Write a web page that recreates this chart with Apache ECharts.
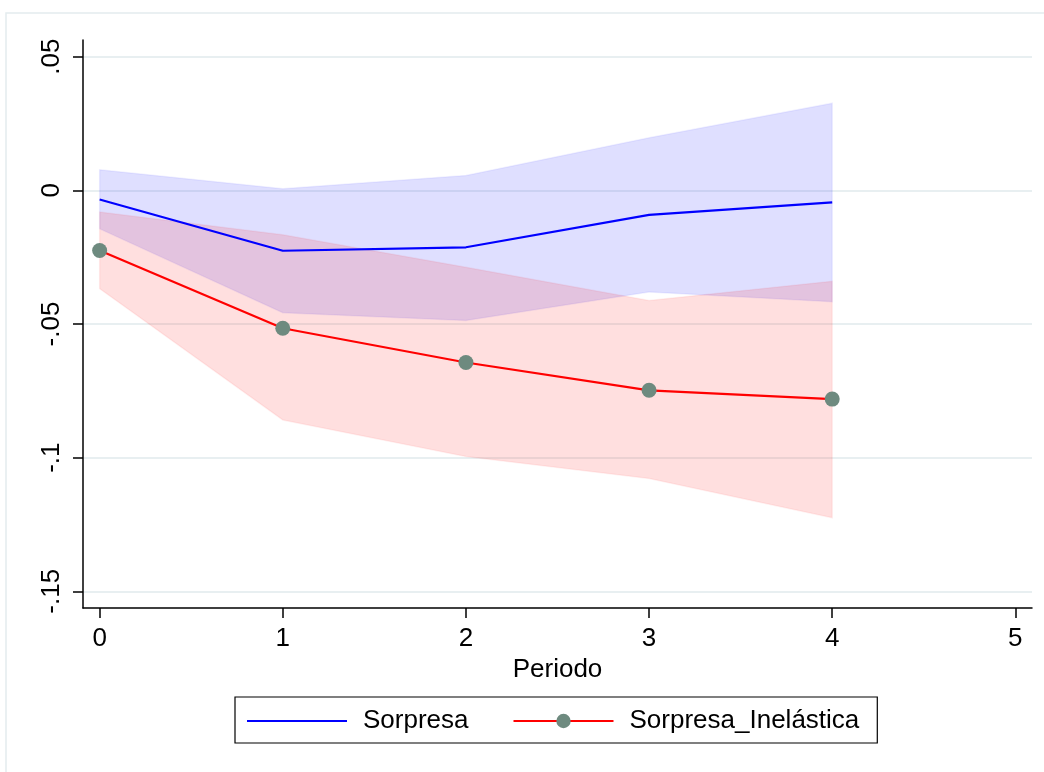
<!DOCTYPE html>
<html>
	<head>
		<meta charset="utf-8">
		<title></title>
	</head>
	<body style="margin:0;background:#fff;">
		<div id="container" style="width:1044px;height:772px;"></div>
	</body>
	<script src="https://cdn.jsdelivr.net/npm/echarts@6/dist/echarts.min.js"></script>
	<script type="text/javascript">
		'use strict'

		// periodos
		var periodos = [0, 1, 2, 3, 4];
		// Sorpresa: estimacion e intervalo
		var sorpresa = [-0.0034, -0.0226, -0.0213, -0.0092, -0.0045];
		var sorpresaLo = [-0.0144, -0.0458, -0.0487, -0.0380, -0.0417];
		var sorpresaHi = [0.0077, 0.0006, 0.0056, 0.0197, 0.0326];
		// Sorpresa_Inelastica: estimacion e intervalo
		var inelastica = [-0.0225, -0.0516, -0.0644, -0.0748, -0.0781];
		var inelasticaLo = [-0.0368, -0.0859, -0.0996, -0.1078, -0.1225];
		var inelasticaHi = [-0.0081, -0.0166, -0.0288, -0.0412, -0.0340];
		// ticks
		var xTicks = [0, 1, 2, 3, 4, 5];
		var yTicks = [-0.15, -0.1, -0.05, 0, 0.05];
		var yTickLabels = ['-.15', '-.1', '-.05', '0', '.05'];

		var fuente = 'Liberation Sans, Arial, sans-serif';

		function banda(lo, hi, relleno, borde) {
			return {
				type: 'custom',
				silent: true,
				data: periodos.map(function(p, i) { return [p, lo[i], hi[i]]; }),
				encode: { x: 0, y: [1, 2] },
				renderItem: function(params, api) {
					if (params.dataIndex !== 0) return null;
					var pts = [];
					for (var i = 0; i < periodos.length; i++) pts.push(api.coord([periodos[i], hi[i]]));
					for (var j = periodos.length - 1; j >= 0; j--) pts.push(api.coord([periodos[j], lo[j]]));
					return {
						type: 'polygon',
						shape: { points: pts },
						style: { fill: relleno, stroke: borde, lineWidth: 1.5 }
					};
				}
			};
		}

		var myCharts = echarts.init(document.getElementById('container'));
		var option = {
			backgroundColor: '#ffffff',
			animation: false,
			graphic: [{
				type: 'rect',
				z: -10,
				shape: { x: 6, y: 13, width: 1200, height: 900 },
				style: { fill: 'none', stroke: '#e4ecee', lineWidth: 1.5 }
			}],
			grid: { left: 83, right: 12, top: 40, bottom: 164 },
			legend: {
				left: 235,
				top: 697,
				padding: [11, 18, 9, 11],
				borderColor: '#000',
				borderWidth: 1.2,
				itemWidth: 100,
				itemHeight: 18,
				itemGap: 44,
				textStyle: { fontFamily: fuente, fontSize: 26, color: '#000', padding: [0, 0, 0, 11] },
				data: [
					{ name: 'Sorpresa', itemStyle: { color: 'rgba(0,0,0,0)', borderWidth: 0 } },
					{ name: 'Sorpresa_Inelástica' }
				]
			},
			xAxis: {
				type: 'value',
				min: -0.0909,
				max: 5.0909,
				name: 'Periodo',
				nameLocation: 'middle',
				nameGap: 40,
				nameTextStyle: { fontFamily: fuente, fontSize: 26, color: '#000' },
				axisLine: { onZero: false, lineStyle: { color: '#000', width: 1.5 } },
				axisTick: { show: true, length: 10, customValues: xTicks, lineStyle: { color: '#000', width: 1.5 } },
				axisLabel: { customValues: xTicks, margin: 18, fontFamily: fuente, fontSize: 26, color: '#000' },
				splitLine: { show: false }
			},
			yAxis: {
				type: 'value',
				min: -0.15625,
				max: 0.05625,
				axisLine: { show: true, onZero: false, lineStyle: { color: '#000', width: 1.5 } },
				axisTick: { show: true, length: 10, customValues: yTicks, lineStyle: { color: '#000', width: 1.5 } },
				axisLabel: {
					customValues: yTicks,
					rotate: 90,
					margin: 18,
					fontFamily: fuente,
					fontSize: 26,
					color: '#000',
					formatter: function(v) {
						for (var i = 0; i < yTicks.length; i++) {
							if (Math.abs(yTicks[i] - v) < 1e-9) return yTickLabels[i];
						}
						return '';
					}
				},
				splitLine: { show: true, lineStyle: { color: '#e8eff1', width: 2 } }
			},
			series: [
				banda(sorpresaLo, sorpresaHi, 'rgba(0,0,255,0.125)', 'rgba(0,0,255,0.06)'),
				banda(inelasticaLo, inelasticaHi, 'rgba(255,0,0,0.125)', 'rgba(255,0,0,0.06)'),
				{
					name: 'Sorpresa',
					type: 'line',
					data: periodos.map(function(p, i) { return [p, sorpresa[i]]; }),
					showSymbol: false,
					symbol: 'none',
					lineStyle: { color: '#0000ff', width: 2.2 },
					itemStyle: { color: '#0000ff' },
					z: 5
				},
				{
					name: 'Sorpresa_Inelástica',
					type: 'line',
					data: periodos.map(function(p, i) { return [p, inelastica[i]]; }),
					symbol: 'circle',
					symbolSize: 15,
					lineStyle: { color: '#ff0000', width: 2.2 },
					itemStyle: { color: '#6e8a7f' },
					z: 6
				}
			]
		};
		myCharts.setOption(option);
	</script>
</html>
